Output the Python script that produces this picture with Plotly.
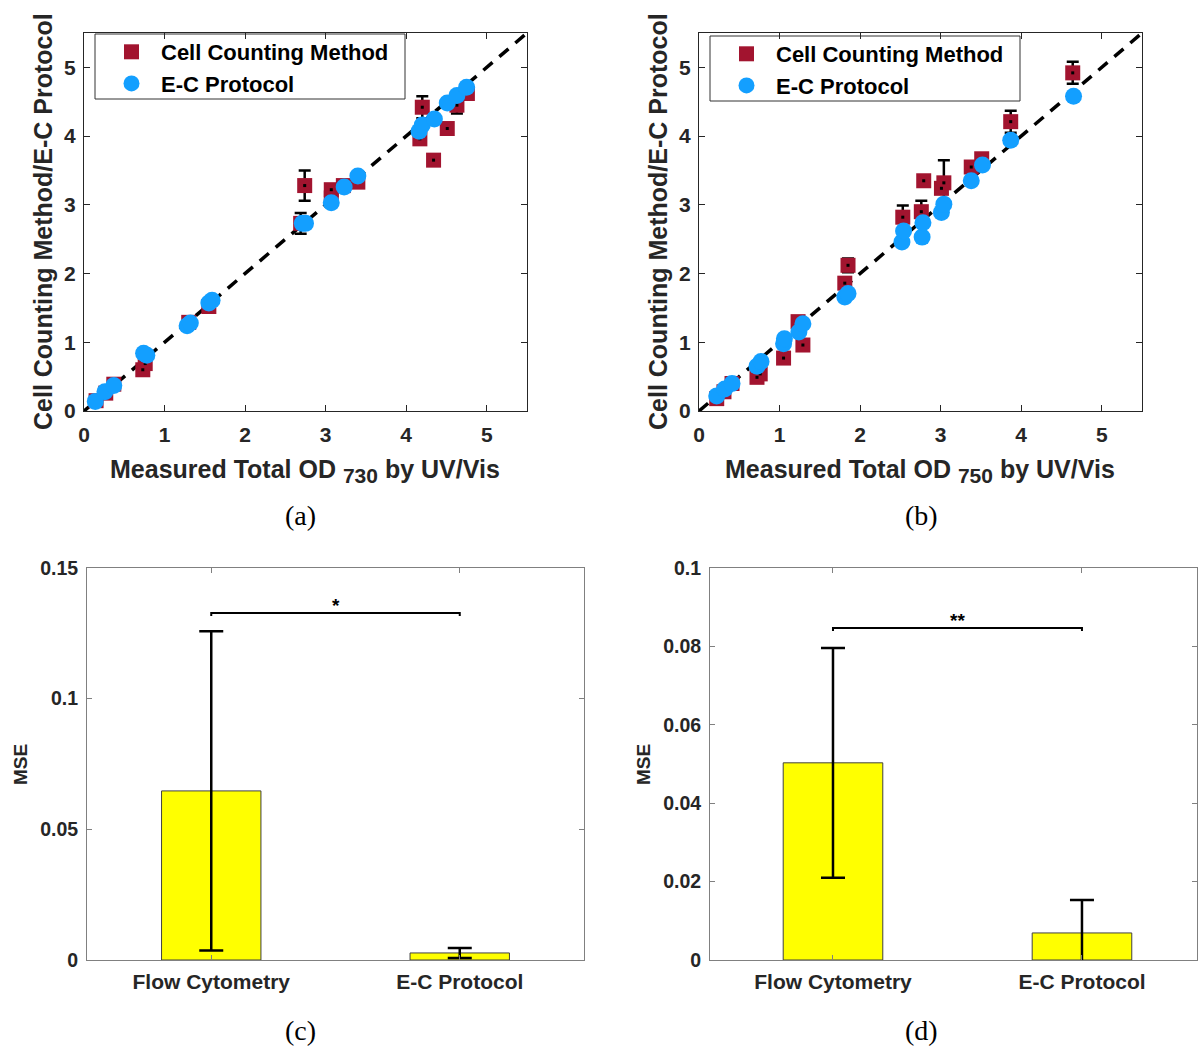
import plotly.graph_objects as go

# ---------------- Panel (a) data: OD730 ----------------
a_cell_x = [0.15, 0.27, 0.37, 0.73, 0.76, 1.30, 1.55, 2.69, 2.74, 3.07, 3.07, 3.22, 3.40, 4.17, 4.20, 4.34, 4.51, 4.63, 4.76]
a_cell_y = [0.15, 0.26, 0.39, 0.60, 0.69, 1.29, 1.52, 2.73, 3.28, 3.22, 3.10, 3.28, 3.33, 3.96, 4.42, 3.65, 4.11, 4.45, 4.62]
a_cell_err = [0.02, 0.02, 0.02, 0.02, 0.02, 0.03, 0.03, 0.15, 0.22, 0.04, 0.04, 0.03, 0.03, 0.05, 0.16, 0.06, 0.03, 0.12, 0.04]
a_ec_x = [0.14, 0.26, 0.37, 0.74, 0.78, 1.28, 1.32, 1.55, 1.59, 2.71, 2.75, 3.07, 3.23, 3.40, 4.16, 4.20, 4.35, 4.51, 4.63, 4.75]
a_ec_y = [0.14, 0.28, 0.37, 0.84, 0.81, 1.24, 1.28, 1.57, 1.61, 2.73, 2.73, 3.03, 3.26, 3.42, 4.07, 4.16, 4.25, 4.48, 4.59, 4.71]

# ---------------- Panel (b) data: OD750 ----------------
b_cell_x = [0.22, 0.31, 0.41, 0.72, 0.76, 1.05, 1.23, 1.29, 1.81, 1.85, 2.53, 2.76, 2.79, 3.01, 3.04, 3.38, 3.51, 3.87, 4.64]
b_cell_y = [0.18, 0.28, 0.40, 0.49, 0.54, 0.77, 1.30, 0.96, 1.86, 2.12, 2.82, 2.90, 3.35, 3.24, 3.32, 3.55, 3.67, 4.21, 4.92]
b_cell_err = [0.02, 0.02, 0.02, 0.03, 0.03, 0.03, 0.03, 0.03, 0.04, 0.10, 0.17, 0.16, 0.05, 0.05, 0.33, 0.06, 0.03, 0.16, 0.16]
b_ec_x = [0.22, 0.32, 0.41, 0.72, 0.77, 1.05, 1.06, 1.24, 1.29, 1.81, 1.85, 2.52, 2.54, 2.77, 2.78, 3.01, 3.04, 3.38, 3.52, 3.87, 4.65]
b_ec_y = [0.22, 0.32, 0.40, 0.65, 0.72, 0.98, 1.05, 1.15, 1.27, 1.66, 1.71, 2.46, 2.62, 2.53, 2.74, 2.89, 3.01, 3.35, 3.58, 3.94, 4.58]

identity = [0, 5.5]

# ---------------- Panels (c), (d): MSE ----------------
methods = ["Flow Cytometry", "E-C Protocol"]
c_mse = [0.0647, 0.0027]
c_err = [0.0611, 0.0019]
d_mse = [0.0503, 0.0069]
d_err = [0.0293, 0.0084]
c_sig_y, c_sig_label = 0.1328, "*"
d_sig_y, d_sig_label = 0.0847, "**"

RED = "#A2142F"
BLUE = "#139FFF"
TXT = "#262626"
FONT = "Liberation Sans"

W, H = 1198, 1046
def fx(px): return px / W
def fy(py): return 1 - py / H

fig = go.Figure()

def add_scatter(xa, ya, cx, cy, cerr, ex, ey, legend, show):
    fig.add_trace(go.Scatter(x=identity, y=identity, mode="lines",
                             line=dict(color="black", width=3.5, dash="12px,9px"),
                             xaxis=xa, yaxis=ya, showlegend=False, hoverinfo="skip"))
    fig.add_trace(go.Scatter(x=cx, y=cy, mode="markers", name="Cell Counting Method",
                             marker=dict(symbol="square", size=15, color=RED),
                             error_y=dict(type="data", array=cerr, color="black", thickness=2.5, width=6),
                             xaxis=xa, yaxis=ya, legend=legend, showlegend=show))
    fig.add_trace(go.Scatter(x=cx, y=cy, mode="markers",
                             marker=dict(symbol="square", size=3, color="black"),
                             xaxis=xa, yaxis=ya, showlegend=False, hoverinfo="skip"))
    fig.add_trace(go.Scatter(x=ex, y=ey, mode="markers", name="E-C Protocol",
                             marker=dict(symbol="circle", size=17, color=BLUE),
                             xaxis=xa, yaxis=ya, legend=legend, showlegend=show))

add_scatter("x", "y", a_cell_x, a_cell_y, a_cell_err, a_ec_x, a_ec_y, "legend", True)
add_scatter("x2", "y2", b_cell_x, b_cell_y, b_cell_err, b_ec_x, b_ec_y, "legend2", True)

def add_bars(xa, ya, vals, errs, sig_y, drop):
    fig.add_trace(go.Bar(x=methods, y=vals, width=0.4,
                         marker=dict(color="#FFFF00", line=dict(color="#404040", width=1)),
                         error_y=dict(type="data", array=errs, color="black", thickness=2.5, width=12),
                         xaxis=xa, yaxis=ya, showlegend=False))
    fig.add_trace(go.Scatter(x=[methods[0], methods[0], methods[1], methods[1]],
                             y=[sig_y - drop, sig_y, sig_y, sig_y - drop], mode="lines",
                             line=dict(color="black", width=2),
                             xaxis=xa, yaxis=ya, showlegend=False, hoverinfo="skip"))

add_bars("x3", "y3", c_mse, c_err, c_sig_y, 0.0012)
add_bars("x4", "y4", d_mse, d_err, d_sig_y, 0.0008)

tickfont = dict(family=FONT, size=21, color=TXT, weight="bold")
sc_axis = dict(range=[0, 5.5], dtick=1, tick0=0, ticks="inside", ticklen=6, tickcolor=TXT,
               showline=True, linecolor=TXT, linewidth=1, mirror="ticks", showgrid=False,
               zeroline=False, tickfont=tickfont, automargin=False)
bar_xfont = dict(family=FONT, size=21, color=TXT, weight="bold")
bar_yfont = dict(family=FONT, size=19.5, color=TXT, weight="bold")
bar_axis = dict(ticks="inside", ticklen=5, tickcolor="#808080", showline=True, linecolor="#808080",
                linewidth=1, mirror="ticks", showgrid=False, zeroline=False, automargin=False)

legend_common = dict(font=dict(family=FONT, size=22, color="black", weight="bold"),
                     borderwidth=0, bgcolor="rgba(0,0,0,0)",
                     xanchor="left", yanchor="top", tracegroupgap=0, itemwidth=49)

fig.update_layout(
    width=W, height=H, margin=dict(l=0, r=0, t=0, b=0, autoexpand=False),
    paper_bgcolor="white", plot_bgcolor="white",
    xaxis=dict(domain=[fx(84), fx(527)], anchor="y", ticklabelstandoff=5, **sc_axis),
    yaxis=dict(domain=[fy(411), fy(33)], anchor="x", ticklabelstandoff=3, **sc_axis),
    xaxis2=dict(domain=[fx(699), fx(1142)], anchor="y2", ticklabelstandoff=5, **sc_axis),
    yaxis2=dict(domain=[fy(411), fy(33)], anchor="x2", ticklabelstandoff=3, **sc_axis),
    xaxis3=dict(domain=[fx(87), fx(584)], anchor="y3", range=[-0.5, 1.5], type="category",
                tickfont=bar_xfont, ticklabelstandoff=3, **bar_axis),
    yaxis3=dict(domain=[fy(960), fy(568)], anchor="x3", range=[0, 0.15],
                tickvals=[0, 0.05, 0.1, 0.15], ticktext=["0", "0.05", "0.1", "0.15"],
                tickfont=bar_yfont, ticklabelstandoff=4, **bar_axis),
    xaxis4=dict(domain=[fx(710), fx(1197)], anchor="y4", range=[-0.494, 1.462], type="category",
                tickfont=bar_xfont, ticklabelstandoff=3, **bar_axis),
    yaxis4=dict(domain=[fy(960), fy(568)], anchor="x4", range=[0, 0.1],
                tickvals=[0, 0.02, 0.04, 0.06, 0.08, 0.1],
                ticktext=["0", "0.02", "0.04", "0.06", "0.08", "0.1"],
                tickfont=bar_yfont, ticklabelstandoff=4, **bar_axis),
    legend=dict(x=fx(102), y=fy(31), **legend_common),
    legend2=dict(x=fx(717), y=fy(33), **legend_common),
    shapes=[
        dict(type="rect", xref="paper", yref="paper", x0=fx(95), x1=fx(405), y0=fy(99), y1=fy(34),
             line=dict(color="#333333", width=1), fillcolor="rgba(0,0,0,0)", layer="below"),
        dict(type="rect", xref="paper", yref="paper", x0=fx(710), x1=fx(1020), y0=fy(101), y1=fy(36),
             line=dict(color="#333333", width=1), fillcolor="rgba(0,0,0,0)", layer="below"),
    ],
)

title_font = dict(family=FONT, size=25, color=TXT, weight="bold")
ann = []
for cx, sub in [(305, "730"), (920, "750")]:
    ann.append(dict(text="Measured Total OD <sub><span style='font-size:21px'>" + sub + "</span></sub> by UV/Vis",
                    x=fx(cx), y=fy(471),
                    xref="paper", yref="paper", showarrow=False, font=title_font,
                    xanchor="center", yanchor="middle"))
for cx in [43, 658]:
    ann.append(dict(text="Cell Counting Method/E-C Protocol", x=fx(cx), y=fy(222),
                    xref="paper", yref="paper", showarrow=False,
                    font=dict(family=FONT, size=25, color=TXT, weight="bold"),
                    textangle=-90, xanchor="center", yanchor="middle"))
for cx in [20, 643]:
    ann.append(dict(text="MSE", x=fx(cx), y=fy(765), xref="paper", yref="paper", showarrow=False,
                    font=dict(family=FONT, size=19, color=TXT, weight="bold"),
                    textangle=-90, xanchor="center", yanchor="middle"))
for lab, cx, cy in [("(a)", 300, 515), ("(b)", 921, 515), ("(c)", 300, 1030), ("(d)", 921, 1030)]:
    ann.append(dict(text=lab, x=fx(cx), y=fy(cy), xref="paper", yref="paper", showarrow=False,
                    font=dict(family="Liberation Serif", size=28, color="black"),
                    xanchor="center", yanchor="middle"))
ann.append(dict(text=c_sig_label, x=0.5, y=c_sig_y, xref="x3", yref="y3", showarrow=False,
                font=dict(family=FONT, size=19, color="black", weight="bold"), yanchor="bottom", yshift=-5))
ann.append(dict(text=d_sig_label, x=0.5, y=d_sig_y, xref="x4", yref="y4", showarrow=False,
                font=dict(family=FONT, size=19, color="black", weight="bold"), yanchor="bottom", yshift=-5))
fig.update_layout(annotations=ann)

fig.write_html("out.html")
